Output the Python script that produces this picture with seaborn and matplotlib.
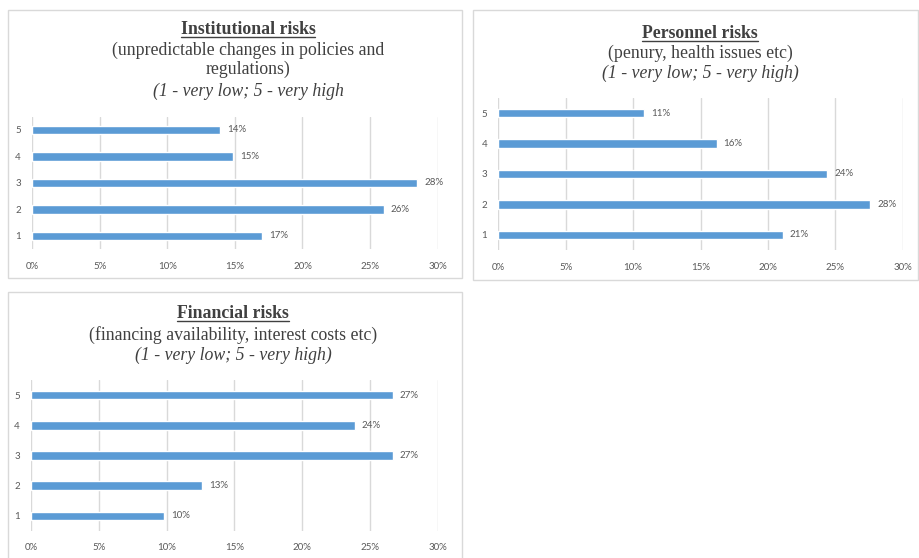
import matplotlib
matplotlib.use("Agg")
import matplotlib.pyplot as plt
import seaborn as sns
import pandas as pd
from matplotlib.patches import Rectangle
from matplotlib.lines import Line2D

# data (percent of respondents)
levels = ['5', '4', '3', '2', '1']
institutional = [13.9, 14.9, 28.5, 26.0, 17.0]
personnel = [10.8, 16.2, 24.4, 27.6, 21.1]
financial = [26.7, 23.9, 26.7, 12.6, 9.8]
xticks = [0, 5, 10, 15, 20, 25, 30]

titles = [
    ('Institutional risks',
     '(unpredictable changes in policies and\nregulations)',
     '(1 - very low; 5 - very high'),
    ('Personnel risks',
     '(penury, health issues etc)',
     '(1 - very low; 5 - very high)'),
    ('Financial risks',
     '(financing availability, interest costs etc)',
     '(1 - very low; 5 - very high)'),
]

sns.set_style('white')
plt.rcParams['font.family'] = ['Lato', 'DejaVu Sans']

W, H = 920, 558
BLUE = '#5B9BD5'
GRID = '#D9D9D9'
TXT = '#595959'
TITLE = '#404040'

fig = plt.figure(figsize=(W / 100, H / 100), dpi=100)


def fx(x):
    return x / W


def fy(y):
    return 1 - y / H


# panel frames (x0, y0, x1, y1) in pixels
frames = [(8, 10, 462, 278), (473, 10, 918, 280), (8, 292, 462, 562)]
# axes boxes (left, top, right, bottom) in pixels
boxes = [(32, 116.7, 437.7, 249.2), (498.3, 97.8, 902.7, 250.2), (31, 380, 437.7, 531)]
# title line centres: x, y of bold line, y of sub, y of italic
title_pos = [(248, 29, 60, 91), (700, 33, 53, 73), (233, 313, 335, 355)]
bar_w = [0.32, 0.28, 0.28]

for fr in frames:
    fig.add_artist(Rectangle((fx(fr[0]), fy(fr[3])), fx(fr[2] - fr[0]), (fr[3] - fr[1]) / H,
                             transform=fig.transFigure, fill=False, edgecolor=GRID, lw=1))

bold_texts = []
for i, vals in enumerate([institutional, personnel, financial]):
    l, t, r, b = boxes[i]
    ax = fig.add_axes([fx(l), fy(b), fx(r - l), (b - t) / H])
    df = pd.DataFrame({'level': levels, 'share': vals})
    sns.barplot(data=df, x='share', y='level', order=levels, orient='h',
                color=BLUE, saturation=1, width=bar_w[i], ax=ax)
    ax.set_xlim(0, 30)
    ax.set_xticks(xticks)
    ax.set_xticklabels([f'{v}%' for v in xticks])
    ax.grid(axis='x', color=GRID, lw=1)
    ax.set_axisbelow(True)
    for s in ax.spines.values():
        s.set_visible(False)
    ax.tick_params(length=0, labelsize=7, labelcolor=TXT, pad=8)
    ax.tick_params(axis='x', pad=9)
    ax.set_xlabel('')
    ax.set_ylabel('')
    ax.bar_label(ax.containers[0], labels=[f'{round(v)}%' for v in vals],
                 padding=5, fontsize=7, color=TXT)

    cx, y1, y2, y3 = title_pos[i]
    main, sub, note = titles[i]
    bt = fig.text(fx(cx), fy(y1), main, ha='center', va='center', fontsize=12.8,
                  fontweight='bold', family='Liberation Serif', color=TITLE)
    bold_texts.append(bt)
    fig.text(fx(cx), fy(y2), sub, ha='center', va='center', fontsize=12.8,
             family='Liberation Serif', color=TITLE, linespacing=1.15)
    fig.text(fx(cx), fy(y3), note, ha='center', va='center', fontsize=12.8,
             style='italic', family='Liberation Serif', color=TITLE)

# underline the bold headings
fig.canvas.draw()
rend = fig.canvas.get_renderer()
for bt in bold_texts:
    bb = bt.get_window_extent(rend)
    yy = bb.y0 + 1
    fig.add_artist(Line2D([bb.x0 / W, bb.x1 / W], [yy / H, yy / H],
                          transform=fig.transFigure, color=TITLE, lw=1))

fig.savefig('out.png', dpi=100, facecolor='white')
